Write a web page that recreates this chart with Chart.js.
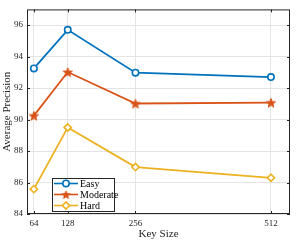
<!DOCTYPE html>
<html><head><meta charset="utf-8">
<script src="https://cdn.jsdelivr.net/npm/chart.js@4/dist/chart.umd.min.js"></script>
<style>html,body{margin:0;padding:0;background:#fff}#w{width:299px;height:241px}</style>
</head><body><div id="w"><canvas id="c"></canvas></div>
<script>
const keySizes = [64, 128, 256, 512];
const easy = [93.25, 95.7, 92.98, 92.7];
const moderate = [90.25, 93.02, 91.02, 91.08];
const hard = [85.58, 89.5, 86.98, 86.3];
const yTicks = [84, 86, 88, 90, 92, 94, 96];
const seriesNames = ['Easy', 'Moderate', 'Hard'];
const colors = ['#0072BD', '#D95319', '#EDB120'];
const FONT = '"Liberation Serif", "DejaVu Serif", serif';

function starCanvas(color, r) {
  const s = Math.ceil(r * 2 + 4);
  const c = document.createElement('canvas');
  c.width = s; c.height = s;
  const g = c.getContext('2d');
  g.beginPath();
  for (let i = 0; i < 10; i++) {
    const rr = i % 2 === 0 ? r : r * 0.42;
    const a = -Math.PI / 2 + i * Math.PI / 5;
    const x = s / 2 + rr * Math.cos(a), y = s / 2 + 0.6 + rr * Math.sin(a);
    if (i === 0) g.moveTo(x, y); else g.lineTo(x, y);
  }
  g.closePath();
  g.fillStyle = color; g.fill();
  g.strokeStyle = color; g.lineWidth = 1; g.stroke();
  return c;
}
const star = starCanvas(colors[1], 4.8);
const starSmall = starCanvas(colors[1], 4.2);

function pts(arr) { return keySizes.map((k, i) => ({x: k, y: arr[i]})); }

const boxPlugin = {
  id: 'box',
  afterDatasetsDraw(chart) {
    const {ctx, chartArea: a, scales} = chart;
    ctx.save();
    ctx.strokeStyle = '#262626';
    ctx.lineWidth = 1;
    ctx.strokeRect(a.left + 0.5, a.top + 0.5, a.right - a.left - 1, a.bottom - a.top - 1);
    ctx.beginPath();
    const t = 3;
    keySizes.forEach(k => {
      const x = Math.round(scales.x.getPixelForValue(k)) + 0.5;
      ctx.moveTo(x, a.bottom); ctx.lineTo(x, a.bottom - t);
      ctx.moveTo(x, a.top); ctx.lineTo(x, a.top + t);
    });
    yTicks.forEach(v => {
      const y = Math.round(scales.y.getPixelForValue(v)) + 0.5;
      ctx.moveTo(a.left, y); ctx.lineTo(a.left + t, y);
      ctx.moveTo(a.right, y); ctx.lineTo(a.right - t, y);
    });
    ctx.stroke();
    // legend
    const lx = 52, ly = 178, lw = 62, lh = 33;
    ctx.fillStyle = '#fff';
    ctx.fillRect(lx, ly, lw, lh);
    ctx.strokeStyle = '#262626';
    ctx.strokeRect(lx + 0.5, ly + 0.5, lw, lh);
    ctx.font = '10px ' + FONT;
    ctx.textBaseline = 'middle';
    chart.data.datasets.forEach((ds, i) => {
      const y = ly + 5.5 + i * 11;
      ctx.strokeStyle = ds.borderColor;
      ctx.lineWidth = 1.6;
      ctx.beginPath(); ctx.moveTo(lx + 2, y); ctx.lineTo(lx + 26, y); ctx.stroke();
      ctx.fillStyle = ds.backgroundColor;
      ctx.strokeStyle = ds.borderColor;
      ctx.lineWidth = ds.pointBorderWidth;
      Chart.helpers.drawPoint(ctx, {
        pointStyle: ds.pointStyle === star ? starSmall : ds.pointStyle,
        radius: ds.pointRadius, borderWidth: ds.pointBorderWidth, rotation: 0
      }, lx + 14, y);
      ctx.fillStyle = '#000';
      ctx.fillText(ds.label, lx + 28, y + 0.5);
    });
    ctx.restore();
  }
};

new Chart(document.getElementById('c'), {
  type: 'line',
  data: {
    datasets: [
      {label: seriesNames[0], data: pts(easy), borderColor: colors[0], backgroundColor: '#fff',
       pointStyle: 'circle', pointRadius: 3.2, pointBorderWidth: 1.6, borderWidth: 1.8},
      {label: seriesNames[1], data: pts(moderate), borderColor: colors[1], backgroundColor: colors[1],
       pointStyle: star, pointRadius: 5, pointBorderWidth: 1, borderWidth: 1.8},
      {label: seriesNames[2], data: pts(hard), borderColor: colors[2], backgroundColor: '#fff',
       pointStyle: 'rectRot', pointRadius: 3.6, pointBorderWidth: 1.6, borderWidth: 1.8}
    ]
  },
  options: {
    responsive: true, maintainAspectRatio: false, animation: false,
    devicePixelRatio: 1,
    layout: {padding: {top: 5, right: 9, left: 1, bottom: 0}},
    plugins: {legend: {display: false}, tooltip: {enabled: false}},
    scales: {
      x: {
        type: 'linear', min: 51, max: 548,
        afterBuildTicks: s => { s.ticks = keySizes.map(v => ({value: v})); },
        afterFit: s => { s.height = 27; },
        grid: {color: '#e4e4e4', drawTicks: false},
        border: {display: false},
        ticks: {font: {family: FONT, size: 9}, color: '#262626', padding: 4, maxRotation: 0,
                callback: v => String(v)},
        title: {display: true, text: 'Key Size', font: {family: FONT, size: 11}, color: '#262626', padding: {top: 0, bottom: 0}}
      },
      y: {
        min: 84, max: 97,
        afterBuildTicks: s => { s.ticks = yTicks.map(v => ({value: v})); },
        afterFit: s => { s.width = 26; },
        grid: {color: '#e4e4e4', drawTicks: false},
        border: {display: false},
        ticks: {font: {family: FONT, size: 9}, color: '#262626', padding: 4},
        title: {display: true, text: 'Average Precision', font: {family: FONT, size: 11}, color: '#262626', padding: {top: 0, bottom: 0}}
      }
    }
  },
  plugins: [boxPlugin]
});
</script>
</body></html>
